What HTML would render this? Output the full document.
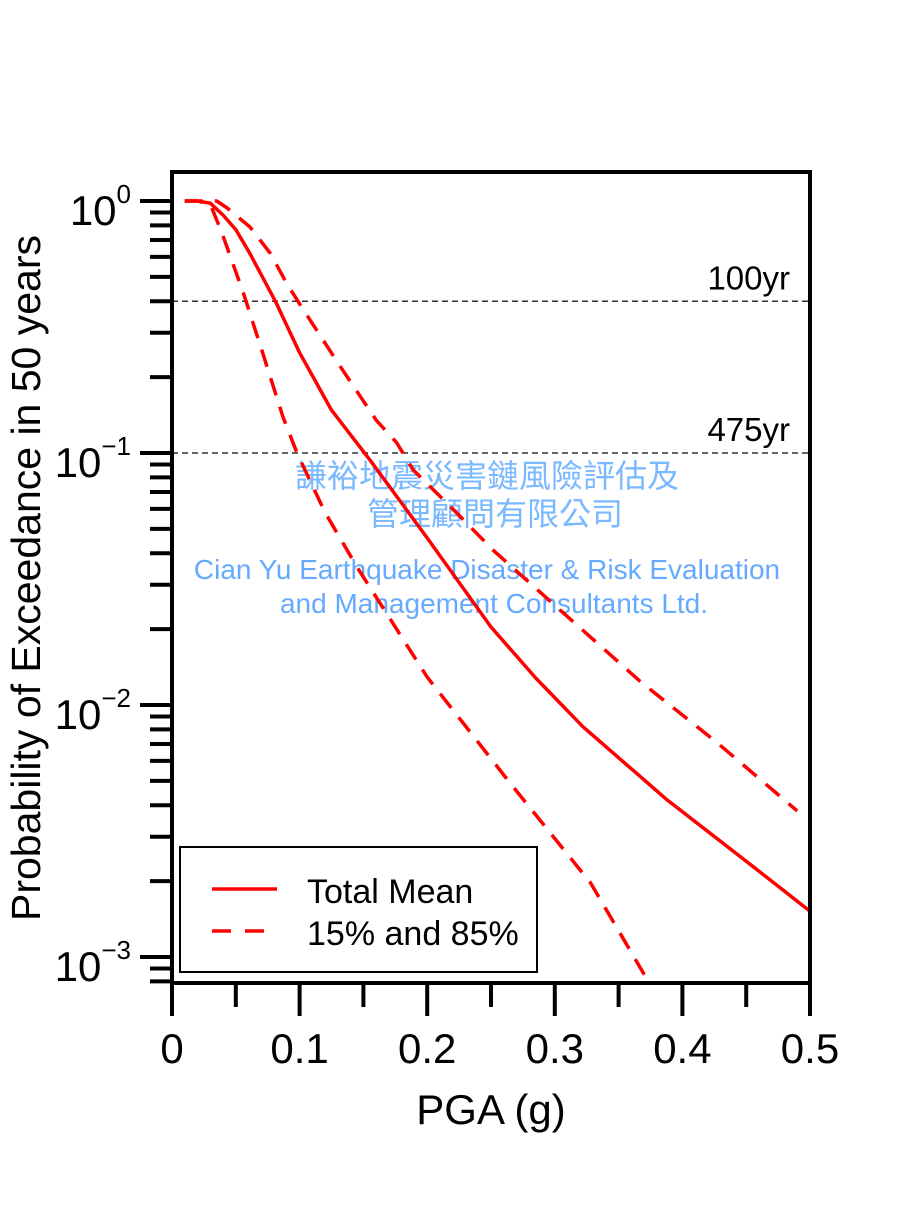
<!DOCTYPE html>
<html><head><meta charset="utf-8"><style>
body{margin:0;background:#fff}
svg text{font-family:"Liberation Sans","Noto Sans CJK TC",sans-serif}
</style></head><body>
<svg width="900" height="1200" viewBox="0 0 900 1200" xmlns="http://www.w3.org/2000/svg">
<g id="plot"></g>
</svg>
<script>
const meanX=[0.01,0.02,0.03,0.04,0.05,0.061,0.081,0.1,0.125,0.155,0.2,0.25,0.285,0.322,0.388,0.45,0.5];
const meanY=[1,1,0.98,0.88,0.77,0.62,0.4,0.25,0.148,0.094,0.046,0.0204,0.0128,0.0082,0.0042,0.0024,0.00152];
const p15X=[0.01,0.02,0.03,0.039,0.056,0.071,0.087,0.098,0.12,0.145,0.2,0.265,0.328,0.372];
const p15Y=[1,1,0.97,0.75,0.43,0.25,0.139,0.1,0.058,0.0353,0.0129,0.0049,0.00197,0.00082];
const p85X=[0.01,0.02,0.035,0.043,0.061,0.077,0.09,0.103,0.132,0.16,0.176,0.189,0.22,0.252,0.31,0.367,0.427,0.49];
const p85Y=[1,1,1,0.94,0.79,0.62,0.47,0.37,0.22,0.135,0.11,0.0857,0.06,0.041,0.0224,0.0124,0.0071,0.0038];
const xTickLabels=["0","0.1","0.2","0.3","0.4","0.5"];
const yTickExps=[0,-1,-2,-3];
const refLevels=[0.4,0.1];
const refLabels=["100yr","475yr"];

const L=172,R=810,T=172,B=983;
const X=v=>L+v*(R-L)/0.5;
const Y=p=>201-Math.log10(p)*252;
const NS="http://www.w3.org/2000/svg";
const g=document.getElementById('plot');
function mk(tag,attrs,txt,parent){const e=document.createElementNS(NS,tag);for(const k in attrs)e.setAttribute(k,attrs[k]);if(txt!==undefined)e.textContent=txt;(parent||g).appendChild(e);return e;}

// watermark
let w;
w=mk('text',{x:487,y:487,'text-anchor':'middle','font-size':32,fill:'#7ab8ff'},'謙裕地震災害鏈風險評估及');


w=mk('text',{x:495,y:525,'text-anchor':'middle','font-size':32,fill:'#7ab8ff'},'管理顧問有限公司');


w=mk('text',{x:487,y:579,'text-anchor':'middle','font-size':28,fill:'#66aaff'},'Cian Yu Earthquake Disaster & Risk Evaluation');


w=mk('text',{x:494,y:613,'text-anchor':'middle','font-size':28,fill:'#66aaff'},'and Management Consultants Ltd.');



// reference lines
refLevels.forEach((v,i)=>{
  const l=mk('line',{x1:L,x2:R,y1:Y(v),y2:Y(v),stroke:'#333','stroke-width':1.5,'stroke-dasharray':'6,4'});
  
  
  const t=mk('text',{x:790,y:Y(v)-12,'text-anchor':'end','font-size':33,fill:'#000'},refLabels[i]);
  
  
});

function path(xs,ys){return xs.map((x,i)=>(i?'L':'M')+X(x).toFixed(1)+','+Y(ys[i]).toFixed(1)).join(' ');}
let s;
s=mk('path',{d:path(p15X,p15Y),fill:'none',stroke:'#ff0000','stroke-width':3.5,'stroke-dasharray':'18,12','stroke-linejoin':'round'});


s=mk('path',{d:path(p85X,p85Y),fill:'none',stroke:'#ff0000','stroke-width':3.5,'stroke-dasharray':'18,12','stroke-linejoin':'round'});


s=mk('path',{d:path(meanX,meanY),fill:'none',stroke:'#ff0000','stroke-width':3.5,'stroke-linejoin':'round'});



// frame
const f=mk('rect',{x:L,y:T,width:R-L,height:B-T,fill:'none',stroke:'#000','stroke-width':4});



// x ticks
for(let i=0;i<=10;i++){
  const v=i*0.05,len=i%2?24:33;
  const t=mk('line',{x1:X(v),x2:X(v),y1:B,y2:B+len,stroke:'#000','stroke-width':4});
  
  
}
xTickLabels.forEach((lab,i)=>{
  const t=mk('text',{x:X(i*0.1),y:1063,'text-anchor':'middle','font-size':42},lab);
  
  
});
// y ticks
for(let e=-4;e<=0;e++){
  for(let m=1;m<=9;m++){
    const p=m*Math.pow(10,e);const y=Y(p);
    if(y<T||y>B)continue;
    const t=mk('line',{x1:L-(m===1?32:22),x2:L,y1:y,y2:y,stroke:'#000','stroke-width':4});
    
    
  }
}
yTickExps.forEach(e=>{
  const y=Y(Math.pow(10,e));
  const t=mk('text',{x:131,y:y+24,'text-anchor':'end','font-size':42});
  
  
  mk('tspan',{},'10',t);
  mk('tspan',{'font-size':26,dy:-22},e===0?'0':'\u2212'+(-e),t);
});

// axis titles
let at=mk('text',{x:491,y:1124,'text-anchor':'middle','font-size':42},'PGA (g)');


at=mk('text',{x:0,y:0,'text-anchor':'middle','font-size':41,transform:'translate(40,578) rotate(-90)'},'Probability of Exceedance in 50 years');



// legend
let lg=mk('rect',{x:180,y:847,width:357,height:125,fill:'#fff',stroke:'#000','stroke-width':2});


lg=mk('line',{x1:212,x2:277,y1:889,y2:889,stroke:'#ff0000','stroke-width':3.5});


lg=mk('line',{x1:212,x2:277,y1:931,y2:931,stroke:'#ff0000','stroke-width':3.5,'stroke-dasharray':'19,14'});


lg=mk('text',{x:307,y:903,'font-size':34},'Total Mean');


lg=mk('text',{x:307,y:945,'font-size':34},'15% and 85%');


</script>
</body></html>
